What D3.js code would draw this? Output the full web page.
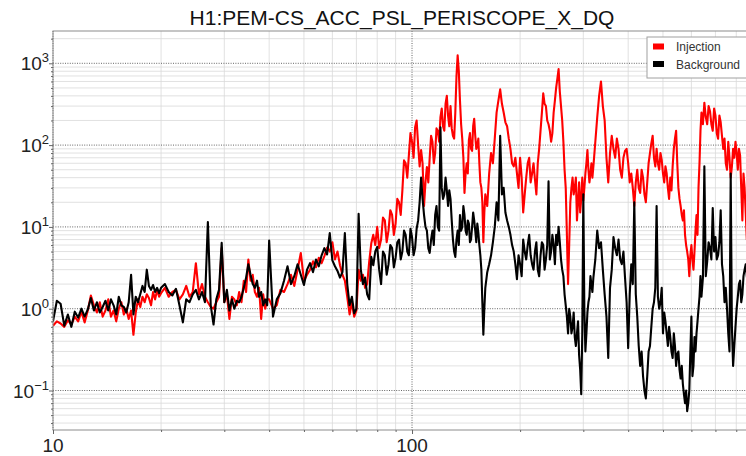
<!DOCTYPE html>
<html>
<head>
<meta charset="utf-8">
<script src="https://cdn.jsdelivr.net/npm/d3@7"></script>
<style>
  body { margin: 0; background: #fff; }
  svg { font-family: "Liberation Sans", Arial, sans-serif; }
</style>
</head>
<body>
<div id="chart"></div>
<script>
// frequency (Hz) of each sample, shared by both traces
var freqs = [
  10, 10.25, 10.5, 10.75, 11, 11.25, 11.5, 11.75, 12, 12.25, 12.5, 12.75, 13, 13.25, 13.5, 13.75, 14, 14.25, 14.5, 14.75,
  15, 15.25, 15.5, 15.75, 16, 16.25, 16.5, 16.75, 17, 17.25, 17.5, 17.75, 18, 18.25, 18.5, 18.75, 19, 19.25, 19.5, 19.75,
  20, 20.5, 21, 21.5, 22, 22.5, 23, 23.5, 24, 24.5, 25, 25.5, 26, 26.5, 27, 27.5, 28, 28.5, 29, 29.5,
  30, 30.5, 31, 31.5, 32, 32.5, 33, 33.5, 34, 34.5, 35, 35.5, 36, 36.5, 37, 37.5, 38, 38.5, 39, 39.5,
  40, 41, 42, 43, 44, 45, 46, 47, 48, 49, 50, 51, 52, 53, 54, 55, 56, 57, 58, 59,
  60, 61, 62, 63, 64, 65, 66, 67, 68, 69, 70, 71, 72, 73, 74, 75, 76, 77, 78, 79,
  80, 82, 84, 86, 88, 90, 92, 94, 96, 98, 100, 102, 104, 106, 108, 110, 112, 114, 116, 118,
  120, 122, 124, 126, 128, 130, 132, 134, 136, 138, 140, 142, 144, 146, 148, 150, 152, 154, 156, 158,
  160, 164, 168, 172, 176, 180, 184, 188, 192, 196, 200, 204, 208, 212, 216, 220, 224, 228, 232, 236,
  240, 244, 248, 252, 256, 260, 264, 268, 272, 276, 280, 284, 288, 292, 296, 300, 304, 308, 312, 316,
  320, 328, 336, 344, 352, 360, 368, 376, 384, 392, 400, 408, 416, 424, 432, 440, 448, 456, 464, 472,
  480, 488, 496, 504, 512, 520, 528, 536, 544, 552, 560, 568, 576, 584, 592, 600, 608, 616, 624, 632,
  640, 652, 664, 676, 688, 700, 712, 724, 736, 748, 760, 772, 784, 796, 808, 820, 832, 844, 856, 868, 880, 892
];

var injection = [
  0.62, 0.70, 0.66, 0.60, 0.72, 0.64, 0.80, 0.70, 0.92, 0.68, 0.95, 1.45, 1.10, 0.90, 1.20, 0.80, 0.95, 1.30, 0.80, 0.95,
  0.70, 1.00, 1.20, 0.85, 1.00, 0.75, 0.95, 0.48, 0.90, 1.30, 1.05, 1.40, 1.20, 1.50, 1.35, 1.10, 1.60, 1.30, 1.70, 1.40,
  1.55, 1.80, 1.40, 1.60, 1.70, 1.30, 1.50, 1.90, 1.40, 1.60, 3.60, 1.50, 2.00, 1.40, 1.20, 1.05, 1.00, 1.20, 1.40, 5.50,
  1.20, 1.50, 0.75, 1.40, 1.30, 1.10, 1.60, 1.20, 2.20, 1.60, 4.00, 2.20, 2.60, 1.60, 1.40, 1.80, 0.75, 1.50, 1.00, 1.30,
  1.3, 1.0, 1.1, 1.7, 1.6, 2.0, 2.6, 1.9, 3.0, 4.8, 2.2, 2.6, 3.0, 3.8, 3.2, 4.2, 3.6, 4.4, 5.6, 5.0,
  6.5, 4.0, 5.0, 3.4, 2.6, 2.2, 1.4, 0.85, 1.2, 0.80, 0.95, 3.0, 2.2, 2.6, 1.8, 2.0, 3.8, 6.3, 8.0, 6.0,
  10, 7.0, 12, 9.0, 14, 11, 20, 28, 60, 75, 110, 165, 100, 87, 18, 54, 70, 110, 80, 150,
  220, 170, 320, 230, 300, 130, 250, 1250, 350, 120, 26, 60, 115, 90, 170, 130, 100, 60, 30, 6.5,
  25, 45, 60, 250, 480, 250, 170, 90, 55, 45, 70, 15, 40, 70, 45, 38, 60, 150, 430, 300,
  180, 110, 250, 500, 850, 300, 110, 30, 2.0, 20, 40, 30, 12, 35, 22, 21, 45, 87, 35, 60,
  55, 220, 600, 200, 35, 130, 70, 90, 40, 85, 60, 45, 18, 50, 26, 40, 20, 60, 105, 70,
  90, 50, 66, 35, 45, 22, 28, 90, 150, 30, 18, 12, 8, 5, 2.5, 6, 3, 9, 8, 60,
  250, 330, 180, 260, 150, 230, 120, 190, 90, 60, 110, 40, 90, 110, 50, 75, 12, 30, 7, 25, 40, 20
];

var background = [
  0.70, 1.25, 1.15, 0.62, 0.85, 0.60, 0.92, 0.78, 1.00, 0.80, 0.98, 1.35, 0.95, 1.20, 0.90, 1.05, 1.25, 0.95, 1.30, 1.10,
  0.85, 1.40, 1.10, 1.05, 0.90, 1.20, 2.60, 0.85, 1.40, 1.20, 1.50, 1.90, 1.60, 3.00, 1.90, 1.70, 1.95, 1.60, 1.80, 1.55,
  1.80, 2.00, 1.60, 1.45, 1.75, 1.10, 0.68, 1.30, 1.20, 1.50, 1.70, 1.30, 1.60, 1.20, 11.5, 1.10, 0.64, 1.30, 1.70, 6.40,
  1.20, 1.70, 0.95, 1.30, 1.00, 1.25, 1.20, 1.40, 1.80, 2.40, 3.50, 2.60, 2.00, 1.80, 2.20, 1.40, 1.60, 1.10, 1.30, 1.10,
  6.8, 0.80, 1.3, 1.55, 2.2, 3.3, 2.0, 2.5, 3.5, 2.6, 1.95, 3.0, 3.6, 2.8, 4.0, 3.3, 4.5, 5.5, 4.6, 8.4,
  3.9, 3.3, 2.9, 2.4, 2.8, 8.4, 2.0, 1.1, 1.4, 0.88, 1.0, 14.5, 3.0, 2.0, 2.4, 1.5, 1.3, 4.3, 3.4, 5.0,
  5.7, 2.0, 4.5, 3.5, 5.5, 4.2, 7.0, 5.0, 8.0, 4.5, 7.5, 5.5, 12, 40, 14, 9, 4.8, 9, 14, 10,
  165, 22, 40, 18, 22, 7, 4.3, 9, 14, 10, 14, 8, 11, 7, 15, 9, 11, 6, 3, 0.48,
  1.8, 3.5, 6.5, 20, 130, 30, 12, 8, 5, 2.3, 3.5, 7, 4, 8, 3.5, 5, 3, 4.5, 6, 4,
  36, 5, 6, 8, 10, 4, 2.5, 1.1, 0.5, 0.8, 0.6, 0.45, 0.5, 0.27, 0.09, 25, 0.3, 0.9, 1.4, 2.0,
  2.4, 9.0, 6.5, 1.5, 0.25, 3.0, 5.5, 7.0, 3.5, 2.4, 0.33, 3.5, 20, 0.8, 0.2, 0.15, 0.08, 0.3, 0.6, 1.2,
  18, 1.0, 1.8, 0.9, 0.5, 0.6, 0.3, 0.5, 0.2, 0.3, 0.14, 0.12, 0.07, 0.056, 0.1, 0.8, 0.2, 0.3, 0.7, 1.4,
  1.4, 55, 3.8, 5.5, 17, 7.5, 4.5, 16, 2.5, 1.8, 0.5, 45, 0.2, 0.6, 1.4, 2.2, 1.5, 3.0, 2.5, 3.5, 2.0, 2.8
];

// extra samples above 80 Hz, where the spectra are dense and noisy
var freqsFine = [
  81, 83, 85, 87, 89, 91, 93, 95, 97, 99, 101, 103, 105, 107, 109, 111, 113, 115, 117, 119,
  121, 123, 125, 127, 129, 131, 133, 135, 137, 139, 141, 143, 145, 147, 149, 151, 153, 155, 157, 159,
  162, 166, 170, 174, 178, 182, 186, 190, 194, 198, 202, 206, 210, 214, 218, 222, 226, 230, 234, 238,
  242, 246, 250, 254, 258, 262, 266, 270, 274, 278, 282, 286, 290, 294, 298, 302, 306, 310, 314, 318,
  324, 332, 340, 348, 356, 364, 372, 380, 388, 396, 404, 412, 420, 428, 436, 444, 452, 460, 468, 476,
  484, 492, 500, 508, 516, 524, 532, 540, 548, 556, 564, 572, 580, 588, 596, 604, 612, 620, 628, 636,
  646, 658, 670, 682, 694, 706, 718, 730, 742, 754, 766, 778, 790, 802, 814, 826, 838, 850, 862, 874, 886
];

var injectionFine = [
  5.5, 13, 6.5, 16, 8, 22, 14, 65, 40, 140, 70, 200, 55, 60, 35, 35, 130, 60, 160, 110,
  280, 150, 400, 170, 160, 120, 700, 800, 180, 70, 45, 45, 140, 85, 210, 90, 120, 35, 20, 15,
  18, 80, 120, 350, 320, 190, 120, 60, 70, 30, 40, 25, 60, 35, 60, 25, 90, 250, 320, 200,
  150, 140, 350, 650, 450, 200, 50, 8, 6, 30, 25, 40, 20, 15, 40, 30, 60, 50, 45, 40,
  110, 400, 300, 70, 80, 90, 120, 50, 70, 90, 35, 30, 35, 30, 50, 25, 35, 80, 130, 55,
  60, 80, 45, 55, 30, 40, 55, 120, 60, 22, 14, 16, 6, 4, 4.5, 4, 5, 14, 30, 150,
  180, 220, 300, 180, 280, 140, 230, 130, 120, 50, 70, 55, 70, 80, 90, 30, 45, 15, 18, 12, 35
];

var backgroundFine = [
  3.0, 5.0, 2.6, 6.0, 3.2, 6.5, 4.0, 9.0, 5.0, 9.5, 4.5, 9.5, 20, 22, 10, 5.5, 7, 6, 18, 9,
  30, 25, 28, 28, 12, 5, 7, 6, 9, 18, 9, 12, 6.5, 10, 12, 6.5, 8.5, 4.5, 1.2, 1.0,
  2.8, 4.5, 10, 12, 25, 15, 10, 6, 3.5, 4.5, 2.5, 5, 6, 4.5, 3, 6.5, 2.5, 6.5, 3, 6,
  4, 8, 3.5, 6, 6.5, 3, 1.5, 0.8, 1.0, 0.5, 0.9, 0.35, 0.7, 0.18, 0.5, 1.0, 0.5, 1.2, 2.5, 1.6,
  4.0, 5.5, 3.0, 0.8, 1.8, 7.5, 4.5, 4.0, 5.0, 1.2, 1.5, 2.0, 1.5, 0.35, 0.3, 0.1, 0.15, 0.35, 1.0, 1.8,
  1.4, 1.2, 0.5, 0.7, 0.35, 0.45, 0.25, 0.35, 0.28, 0.18, 0.2, 0.09, 0.1, 0.07, 0.3, 0.15, 0.45, 0.5, 1.0, 2.5,
  2.4, 2.5, 6.5, 4.0, 5.0, 4.0, 6.5, 3.5, 1.2, 1.0, 0.3, 0.6, 0.35, 1.0, 2.0, 1.2, 2.5, 3.5, 2.0, 3.0, 2.2
];

var xTicks = [10, 100];
var yTicks = [0.1, 1, 10, 100, 1000];
var yTickExp = ["\u22121", "0", "1", "2", "3"];
var title = "H1:PEM-CS_ACC_PSL_PERISCOPE_X_DQ";

// all samples in frequency order
var points = freqs.map(function (f, i) {
  return { f: f, inj: injection[i], bg: background[i] };
}).concat(freqsFine.map(function (f, i) {
  return { f: f, inj: injectionFine[i], bg: backgroundFine[i] };
})).sort(function (a, b) { return a.f - b.f; });

var series = [
  { name: "Injection", color: "#ff0000", key: "inj" },
  { name: "Background", color: "#000000", key: "bg" }
];

var width = 746, height = 456;
var plotLeft = 53, plotTop = 31, plotRight = 752, plotBottom = 430;

var svg = d3.select("#chart").append("svg")
  .attr("width", width)
  .attr("height", height);

var x = d3.scaleLog().domain([10, 885]).range([plotLeft, plotRight]);
var y = d3.scaleLog().domain([0.0329, 2483]).range([plotBottom, plotTop]);

// minor grid positions
var xMinor = [], yMinor = [];
[10, 100].forEach(function (d) {
  for (var k = 2; k <= 9; k++) if (d * k < 885) xMinor.push(d * k);
});
[0.01, 0.1, 1, 10, 100, 1000].forEach(function (d) {
  for (var k = 2; k <= 9; k++) if (d * k > 0.0329 && d * k < 2483) yMinor.push(d * k);
});

var grid = svg.append("g");
grid.selectAll(".xminor").data(xMinor).enter().append("line")
  .attr("x1", x).attr("x2", x).attr("y1", plotTop).attr("y2", plotBottom)
  .attr("stroke", "#d9d9d9").attr("stroke-width", 0.8);
grid.selectAll(".yminor").data(yMinor).enter().append("line")
  .attr("x1", plotLeft).attr("x2", plotRight).attr("y1", y).attr("y2", y)
  .attr("stroke", "#d9d9d9").attr("stroke-width", 0.8);
grid.selectAll(".xmajor").data(xTicks).enter().append("line")
  .attr("x1", x).attr("x2", x).attr("y1", plotTop).attr("y2", plotBottom)
  .attr("stroke", "#666").attr("stroke-width", 1).attr("stroke-dasharray", "1,1.4");
grid.selectAll(".ymajor").data(yTicks).enter().append("line")
  .attr("x1", plotLeft).attr("x2", plotRight).attr("y1", y).attr("y2", y)
  .attr("stroke", "#666").attr("stroke-width", 1).attr("stroke-dasharray", "1,1.4");

// data
svg.append("clipPath").attr("id", "plotclip").append("rect")
  .attr("x", plotLeft).attr("y", plotTop)
  .attr("width", plotRight - plotLeft).attr("height", plotBottom - plotTop);

svg.append("g").attr("clip-path", "url(#plotclip)")
  .selectAll("path").data(series).enter().append("path")
  .attr("d", function (s) {
    return d3.line()
      .x(function (p) { return x(p.f); })
      .y(function (p) { return y(p[s.key]); })(points);
  })
  .attr("fill", "none")
  .attr("stroke", function (s) { return s.color; })
  .attr("stroke-width", 2.1)
  .attr("stroke-linejoin", "round");

// frame
svg.append("rect")
  .attr("x", plotLeft).attr("y", plotTop)
  .attr("width", plotRight - plotLeft).attr("height", plotBottom - plotTop)
  .attr("fill", "none").attr("stroke", "#8c8c8c").attr("stroke-width", 1);

// ticks
function tickStyle(g) {
  g.select(".domain").remove();
  g.selectAll("line").attr("stroke", "#666");
}
svg.append("g").attr("transform", "translate(0," + plotBottom + ")")
  .call(d3.axisBottom(x).tickValues(xTicks).tickSize(4).tickFormat(""))
  .call(tickStyle);
svg.append("g").attr("transform", "translate(0," + plotBottom + ")")
  .call(d3.axisBottom(x).tickValues(xMinor).tickSize(2).tickFormat(""))
  .call(tickStyle);
svg.append("g").attr("transform", "translate(" + plotLeft + ",0)")
  .call(d3.axisLeft(y).tickValues(yTicks).tickSize(4).tickFormat(""))
  .call(tickStyle);
svg.append("g").attr("transform", "translate(" + plotLeft + ",0)")
  .call(d3.axisLeft(y).tickValues(yMinor).tickSize(2).tickFormat(""))
  .call(tickStyle);

// tick labels
svg.selectAll(".xlab").data(xTicks).enter().append("text")
  .attr("x", x).attr("y", 452)
  .attr("text-anchor", "middle")
  .attr("font-size", 19).attr("fill", "#222")
  .text(function (d) { return d; });

var ylab = svg.selectAll(".ylab").data(yTicks).enter().append("text")
  .attr("x", 49).attr("y", function (d) { return y(d) + 7; })
  .attr("text-anchor", "end")
  .attr("fill", "#222");
ylab.append("tspan").attr("font-size", 19).text("10");
ylab.append("tspan").attr("font-size", 13).attr("dy", -8)
  .text(function (d, i) { return yTickExp[i]; });

// title
svg.append("text")
  .attr("x", 402).attr("y", 25)
  .attr("text-anchor", "middle")
  .attr("font-size", 21).attr("fill", "#111")
  .text(title);

// legend
var lg = svg.append("g");
lg.append("rect").attr("x", 647).attr("y", 37).attr("width", 110).attr("height", 41)
  .attr("fill", "#fff").attr("stroke", "#a0a0a0").attr("stroke-width", 1);
var items = lg.selectAll(".item").data(series).enter().append("g")
  .attr("transform", function (d, i) { return "translate(0," + (i * 17.5) + ")"; });
items.append("rect").attr("x", 653).attr("y", 43.5).attr("width", 11).attr("height", 6)
  .attr("fill", function (d) { return d.color; });
items.append("text").attr("x", 676).attr("y", 51)
  .attr("font-size", 12).attr("fill", "#333")
  .text(function (d) { return d.name; });
</script>
</body>
</html>
